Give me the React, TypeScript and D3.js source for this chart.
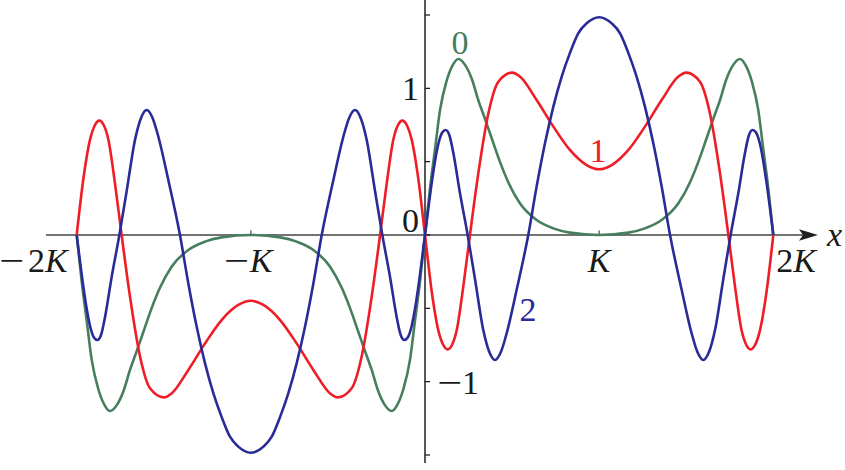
import React from 'react';
import * as d3 from 'd3';

// x in units of K, y in function units
const curve0: [number, number][] = [
  [-2, 0], [-1.971, -0.32], [-1.943, -0.58], [-1.914, -0.85], [-1.876, -1.05], [-1.84, -1.16],
  [-1.809, -1.2], [-1.77, -1.16], [-1.73, -1.06], [-1.694, -0.92], [-1.655, -0.79], [-1.617, -0.66],
  [-1.57, -0.5], [-1.522, -0.36], [-1.455, -0.216], [-1.359, -0.102], [-1.263, -0.045], [-1.168, -0.016],
  [-1, 0], [-0.832, -0.016], [-0.737, -0.045], [-0.641, -0.102], [-0.545, -0.216], [-0.478, -0.36],
  [-0.43, -0.5], [-0.383, -0.66], [-0.345, -0.79], [-0.306, -0.92], [-0.27, -1.06], [-0.23, -1.16],
  [-0.191, -1.2], [-0.16, -1.16], [-0.124, -1.05], [-0.086, -0.85], [-0.057, -0.58], [-0.029, -0.32],
  [0, 0],
  [0.029, 0.32], [0.057, 0.58], [0.086, 0.85], [0.124, 1.05], [0.16, 1.16], [0.191, 1.2],
  [0.23, 1.16], [0.27, 1.06], [0.306, 0.92], [0.345, 0.79], [0.383, 0.66], [0.43, 0.5],
  [0.478, 0.36], [0.545, 0.216], [0.641, 0.102], [0.737, 0.045], [0.832, 0.016], [1, 0],
  [1.168, 0.016], [1.263, 0.045], [1.359, 0.102], [1.455, 0.216], [1.522, 0.36], [1.57, 0.5],
  [1.617, 0.66], [1.655, 0.79], [1.694, 0.92], [1.73, 1.06], [1.77, 1.16], [1.809, 1.2],
  [1.84, 1.16], [1.876, 1.05], [1.914, 0.85], [1.943, 0.58], [1.971, 0.32], [2, 0],
];

const curve1: [number, number][] = [
  [-2, 0], [-1.962, 0.38], [-1.9235, 0.65], [-1.895, 0.75], [-1.87, 0.78], [-1.845, 0.75],
  [-1.818, 0.65], [-1.78, 0.35], [-1.742, 0], [-1.694, -0.42], [-1.636, -0.83], [-1.579, -1.045],
  [-1.5, -1.107], [-1.455, -1.08], [-1.359, -0.92], [-1.263, -0.739], [-1.168, -0.58], [-1.072, -0.477],
  [-1, -0.448], [-0.928, -0.477], [-0.832, -0.58], [-0.737, -0.739], [-0.641, -0.92], [-0.545, -1.08],
  [-0.5, -1.107], [-0.421, -1.045], [-0.364, -0.83], [-0.306, -0.42], [-0.258, 0], [-0.22, 0.35],
  [-0.182, 0.65], [-0.155, 0.75], [-0.13, 0.78], [-0.105, 0.75], [-0.0765, 0.65], [-0.038, 0.38],
  [0, 0],
  [0.038, -0.38], [0.0765, -0.65], [0.105, -0.75], [0.13, -0.78], [0.155, -0.75], [0.182, -0.65],
  [0.22, -0.35], [0.258, 0], [0.306, 0.42], [0.364, 0.83], [0.421, 1.045], [0.5, 1.107],
  [0.545, 1.08], [0.641, 0.92], [0.737, 0.739], [0.832, 0.58], [0.928, 0.477], [1, 0.448],
  [1.072, 0.477], [1.168, 0.58], [1.263, 0.739], [1.359, 0.92], [1.455, 1.08], [1.5, 1.107],
  [1.579, 1.045], [1.636, 0.83], [1.694, 0.42], [1.742, 0], [1.78, -0.35], [1.818, -0.65],
  [1.845, -0.75], [1.87, -0.78], [1.895, -0.75], [1.9235, -0.65], [1.962, -0.38], [2, 0],
];

const curve2: [number, number][] = [
  [-2, 0], [-1.962, -0.35], [-1.943, -0.5], [-1.9235, -0.62], [-1.9, -0.7], [-1.881, -0.716],
  [-1.86, -0.68], [-1.837, -0.557], [-1.799, -0.284], [-1.755, 0], [-1.713, 0.3], [-1.665, 0.65],
  [-1.63, 0.8], [-1.598, 0.852], [-1.565, 0.8], [-1.531, 0.67], [-1.474, 0.375], [-1.407, 0],
  [-1.359, -0.33], [-1.311, -0.625], [-1.263, -0.875], [-1.215, -1.08], [-1.168, -1.24], [-1.12, -1.375],
  [-1.072, -1.443], [-1, -1.485], [-0.928, -1.443], [-0.88, -1.375], [-0.832, -1.24], [-0.785, -1.08],
  [-0.737, -0.875], [-0.689, -0.625], [-0.641, -0.33], [-0.593, 0], [-0.526, 0.375], [-0.469, 0.67],
  [-0.435, 0.8], [-0.402, 0.852], [-0.37, 0.8], [-0.335, 0.65], [-0.287, 0.3], [-0.245, 0],
  [-0.201, -0.284], [-0.163, -0.557], [-0.14, -0.68], [-0.119, -0.716], [-0.1, -0.7], [-0.0765, -0.62],
  [-0.057, -0.5], [-0.038, -0.35], [0, 0],
  [0.038, 0.35], [0.057, 0.5], [0.0765, 0.62], [0.1, 0.7], [0.119, 0.716], [0.14, 0.68],
  [0.163, 0.557], [0.201, 0.284], [0.245, 0], [0.287, -0.3], [0.335, -0.65], [0.37, -0.8],
  [0.402, -0.852], [0.435, -0.8], [0.469, -0.67], [0.526, -0.375], [0.593, 0], [0.641, 0.33],
  [0.689, 0.625], [0.737, 0.875], [0.785, 1.08], [0.832, 1.24], [0.88, 1.375], [0.928, 1.443],
  [1, 1.485], [1.072, 1.443], [1.12, 1.375], [1.168, 1.24], [1.215, 1.08], [1.263, 0.875],
  [1.311, 0.625], [1.359, 0.33], [1.407, 0], [1.474, -0.375], [1.531, -0.67], [1.565, -0.8],
  [1.598, -0.852], [1.63, -0.8], [1.665, -0.65], [1.713, -0.3], [1.755, 0], [1.799, 0.284],
  [1.837, 0.557], [1.86, 0.68], [1.881, 0.716], [1.9, 0.7], [1.9235, 0.62], [1.943, 0.5],
  [1.962, 0.35], [2, 0],
];

const seriesNames = ['0', '1', '2'];
const seriesColors = ['#467e5e', '#ee1d26', '#2a2a98'];
const yTicks = [-1.5, -1, -0.5, 0, 0.5, 1, 1.5];
const xTicks = [-1, 1];
const xLabelValues = [-2, -1, 1, 2];
const xLabelMinus = [true, true, false, false];
const xLabelBody = ['2K', 'K', 'K', '2K'];

const W = 845;
const H = 470;
const MINUS = '\u2212';

export default function App() {
  const x = d3.scaleLinear().domain([-2, 2]).range([76.7, 773.3]);
  const y = d3.scaleLinear().domain([-1.5, 1.5]).range([455, 15]);
  const line = d3
    .line<[number, number]>()
    .x((d) => x(d[0]))
    .y((d) => y(d[1]))
    .curve(d3.curveMonotoneX);

  const x0 = x(0);
  const y0 = y(0);
  const font = '"Liberation Serif", "DejaVu Serif", serif';

  // where the curve names sit
  const nameLabels = [
    { x: 460, y: 54 },
    { x: 598, y: 162 },
    { x: 528, y: 321 },
  ];

  // the minus in the original is a long one
  const minus = (px: number, py: number, key: string) => (
    <text key={key} x={px} y={py} textLength={25} lengthAdjust="spacingAndGlyphs">
      {MINUS}
    </text>
  );

  const renderBody = (body: string) =>
    body.split('').map((ch, i) =>
      ch === 'K' ? (
        <tspan key={i} fontStyle="italic">K</tspan>
      ) : (
        <tspan key={i}>{ch}</tspan>
      )
    );

  return (
    <svg
      width={W}
      height={H}
      style={{ position: 'absolute', left: 0, top: 0, background: '#fff' }}
      fontFamily={font}
    >
      {/* axes */}
      <line x1={46} x2={806} y1={y0} y2={y0} stroke="#444" strokeWidth={1.6} />
      <path d={`M818,${y0} L799,${y0 - 5.8} L803,${y0} L799,${y0 + 5.8} Z`} fill="#222" />
      <line x1={x0} x2={x0} y1={0} y2={463} stroke="#111" strokeWidth={1.4} />
      {yTicks.map((t) => (
        <line key={t} x1={x0} x2={x0 + 5} y1={y(t)} y2={y(t)} stroke="#111" strokeWidth={1.2} />
      ))}
      {xTicks.map((t) => (
        <line key={t} x1={x(t)} x2={x(t)} y1={y0} y2={y0 - 4.5} stroke="#444" strokeWidth={1.2} />
      ))}

      {/* curves */}
      {[curve0, curve1, curve2].map((c, i) => (
        <path
          key={i}
          d={line(c) || ''}
          fill="none"
          stroke={seriesColors[i]}
          strokeWidth={2.6}
          strokeLinejoin="round"
        />
      ))}

      {/* tick labels */}
      <g fontSize={34} fill="#1a1a1a">
        <text x={x0 - 6} y={y(1) + 12} textAnchor="end">1</text>
        <text x={x0 - 6} y={y0 - 3} textAnchor="end">0</text>
        {minus(x0 + 12, y(-1) + 12, 'm-1')}
        <text x={x0 + 37} y={y(-1) + 12}>1</text>
        {xLabelValues.map((v, i) => {
          const base = 272;
          let bodyX = x(v);
          let anchor: 'start' | 'middle' | 'end' = 'middle';
          if (v === -2) {
            bodyX = x(v) - 9;
            anchor = 'end';
          } else if (v === 2) {
            bodyX = x(v) + 3;
            anchor = 'start';
          } else if (v === -1) {
            bodyX = x(v) - 1;
            anchor = 'start';
          }
          const minusX = v === -2 ? -1 : bodyX - 26;
          return (
            <g key={v}>
              {xLabelMinus[i] && minus(minusX, base, `m${v}`)}
              <text x={bodyX} y={base} textAnchor={anchor}>
                {renderBody(xLabelBody[i])}
              </text>
            </g>
          );
        })}
        <text x={827} y={246} fontStyle="italic">x</text>
      </g>

      {/* curve names */}
      {seriesNames.map((n, i) => (
        <text
          key={n}
          x={nameLabels[i].x}
          y={nameLabels[i].y}
          fontSize={34}
          textAnchor="middle"
          fill={seriesColors[i]}
        >
          {n}
        </text>
      ))}
    </svg>
  );
}
